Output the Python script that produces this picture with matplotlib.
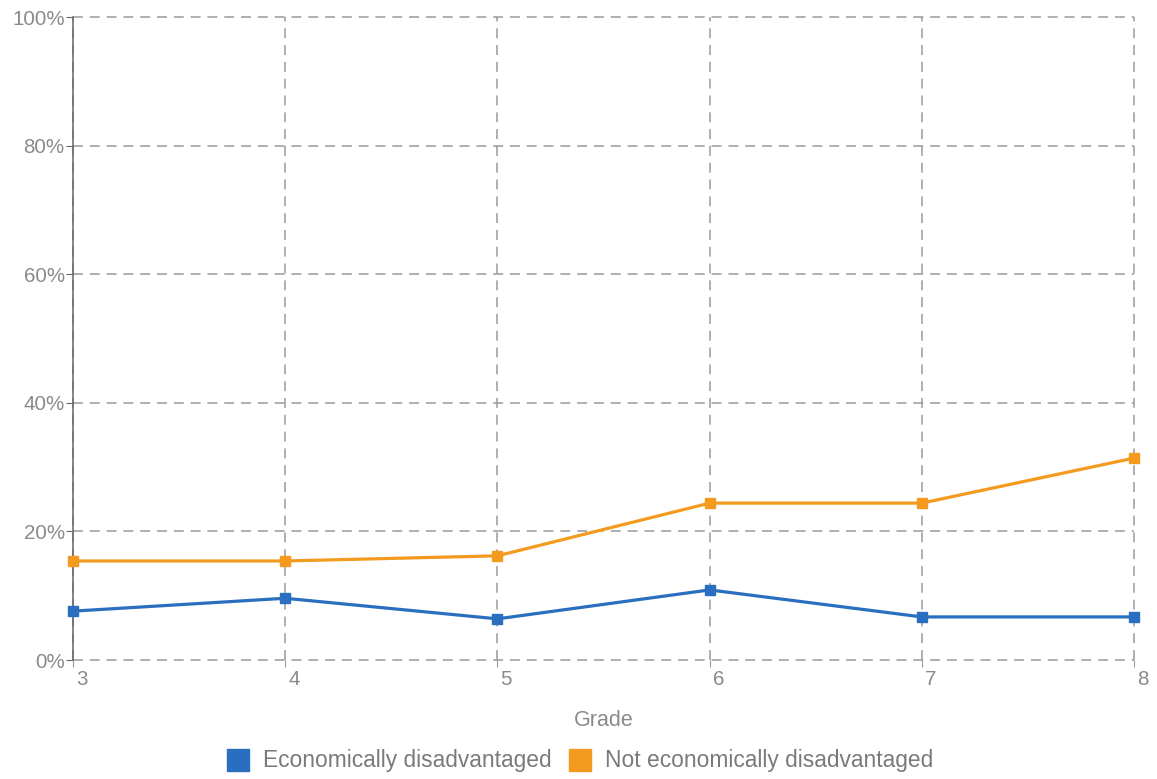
import matplotlib.pyplot as plt
import matplotlib.transforms as mtransforms
from matplotlib.lines import Line2D
from matplotlib.ticker import FuncFormatter

grades = [3, 4, 5, 6, 7, 8]
econ_dis = [7.6, 9.6, 6.4, 10.9, 6.7, 6.7]
not_econ_dis = [15.4, 15.4, 16.2, 24.4, 24.4, 31.4]
series_names = ["Economically disadvantaged", "Not economically disadvantaged"]
colors = ["#2a6ebf", "#f39a1f"]

label_color = "#8a8a8a"
plt.rcParams["font.family"] = ["Liberation Sans", "DejaVu Sans"]


def main():
    fig = plt.figure(figsize=(11.57, 7.79), dpi=100)
    ax = fig.add_axes([73 / 1157, 1 - 660 / 779, (1134 - 73) / 1157, (660 - 17) / 779])

    for vals, col in zip([econ_dis, not_econ_dis], colors):
        ax.plot(grades, vals, color=col, linewidth=2.3, marker="s", markersize=7.5,
                clip_on=False, zorder=3)

    ax.set_xlim(3, 8)
    ax.set_ylim(0, 100)
    ax.set_xticks(grades)
    ax.set_yticks(range(0, 101, 20))
    ax.yaxis.set_major_formatter(FuncFormatter(lambda v, p: "%d%%" % v))

    ax.grid(True, linestyle=(0, (6.5, 4.5)), color="#9a9a9a", linewidth=1.1)
    ax.set_axisbelow(True)
    for line in ax.get_xgridlines() + ax.get_ygridlines():
        line.set_clip_on(False)
    for s in ["top", "right", "bottom"]:
        ax.spines[s].set_visible(False)
    ax.spines["left"].set_color("#666666")
    ax.spines["left"].set_linewidth(1.1)

    ax.tick_params(axis="y", length=5, color="#666666", labelcolor=label_color,
                   labelsize=14.8, pad=1)
    ax.tick_params(axis="x", length=5, color="#9a9a9a", labelcolor=label_color,
                   labelsize=14.8, pad=2)
    shift = mtransforms.ScaledTranslation(3 / 100, 0, fig.dpi_scale_trans)
    for lbl in ax.get_xticklabels():
        lbl.set_horizontalalignment("left")
        lbl.set_transform(lbl.get_transform() + shift)

    ax.set_xlabel("Grade", color=label_color, fontsize=15.5, labelpad=15)

    handles = [Line2D([0], [0], marker="s", linestyle="none", markersize=16.5,
                      markerfacecolor=c, markeredgecolor=c) for c in colors]
    fig.legend(handles, series_names, loc="center", bbox_to_anchor=(0.5, 1 - 761 / 779),
               ncol=2, frameon=False, fontsize=16.4, labelcolor="#7a7a7a",
               handletextpad=0.5, columnspacing=0.65, handlelength=1.2)

    fig.savefig("out.png", dpi=100)


main()
